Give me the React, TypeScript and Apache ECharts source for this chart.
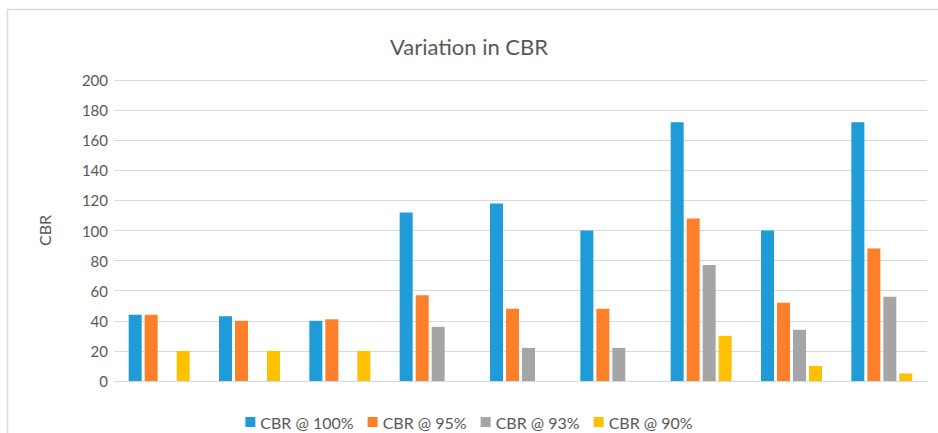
import React, { useEffect, useRef } from "react";
import * as echarts from "echarts";

const categories = ["1", "2", "3", "4", "5", "6", "7", "8", "9"];
const seriesNames = ["CBR @ 100%", "CBR @ 95%", "CBR @ 93%", "CBR @ 90%"];
const cbr100 = [44, 43, 40, 112, 118, 100, 172, 100, 172];
const cbr95 = [44, 40, 41, 57, 48, 48, 108, 52, 88];
const cbr93 = [null, null, null, 36, 22, 22, 77, 34, 56];
const cbr90 = [20, 20, 20, null, null, null, 30, 10, 5];
const yTicks = { min: 0, max: 200, interval: 20 };
const colors = ["#1f9bd7", "#fe7f29", "#a5a5a5", "#ffc000"];

const FONT = "Lato, 'Open Sans', sans-serif";
const TEXT = "#595959";

export default function App() {
  const ref = useRef<HTMLDivElement>(null);
  useEffect(() => {
    if (!ref.current) return;
    const chart = echarts.init(ref.current, null, { renderer: "svg" });
    const data = [cbr100, cbr95, cbr93, cbr90];
    chart.setOption({
      animation: false,
      color: colors,
      textStyle: { fontFamily: FONT },
      title: {
        text: "Variation in CBR",
        left: "center",
        top: 30,
        textStyle: { fontSize: 22, fontWeight: "normal", color: TEXT, fontFamily: FONT },
      },
      graphic: [
        {
          type: "polyline",
          shape: { points: [[7.5, 433], [7.5, 9.5], [938, 9.5]] },
          style: { stroke: "#d9d9d9", lineWidth: 1.5, fill: null },
          silent: true,
        },
      ],
      legend: {
        bottom: -2,
        left: "center",
        icon: "rect",
        itemWidth: 10,
        itemHeight: 10,
        itemGap: 14,
        textStyle: { fontSize: 16, color: TEXT, fontFamily: FONT },
        data: seriesNames,
      },
      grid: {
        left: 114,
        right: 11,
        top: 80,
        bottom: 52,
        containLabel: false,
        outerBoundsMode: "none",
      },
      xAxis: {
        type: "category",
        data: categories,
        axisLabel: { show: false },
        axisTick: { show: false },
        axisLine: { lineStyle: { color: "#d9d9d9", width: 1 } },
      },
      yAxis: {
        type: "value",
        min: yTicks.min,
        max: yTicks.max,
        interval: yTicks.interval,
        name: "CBR",
        nameLocation: "middle",
        nameGap: 62,
        nameRotate: 90,
        nameTextStyle: { fontSize: 16, color: TEXT, fontFamily: FONT },
        axisLabel: { fontSize: 15, color: TEXT, margin: 6, fontFamily: FONT },
        axisLine: { show: false },
        axisTick: { show: false },
        splitLine: { lineStyle: { color: "#d9d9d9", width: 1 } },
      },
      series: seriesNames.map((name, i) => ({
        name,
        type: "bar",
        data: data[i],
        barWidth: 13,
        barGap: "23%",
        itemStyle: { color: colors[i] },
      })),
    });
    return () => chart.dispose();
  }, []);
  return (
    <div
      ref={ref}
      style={{ position: "absolute", left: 0, top: 0, width: 938, height: 433, background: "#fff" }}
    />
  );
}
